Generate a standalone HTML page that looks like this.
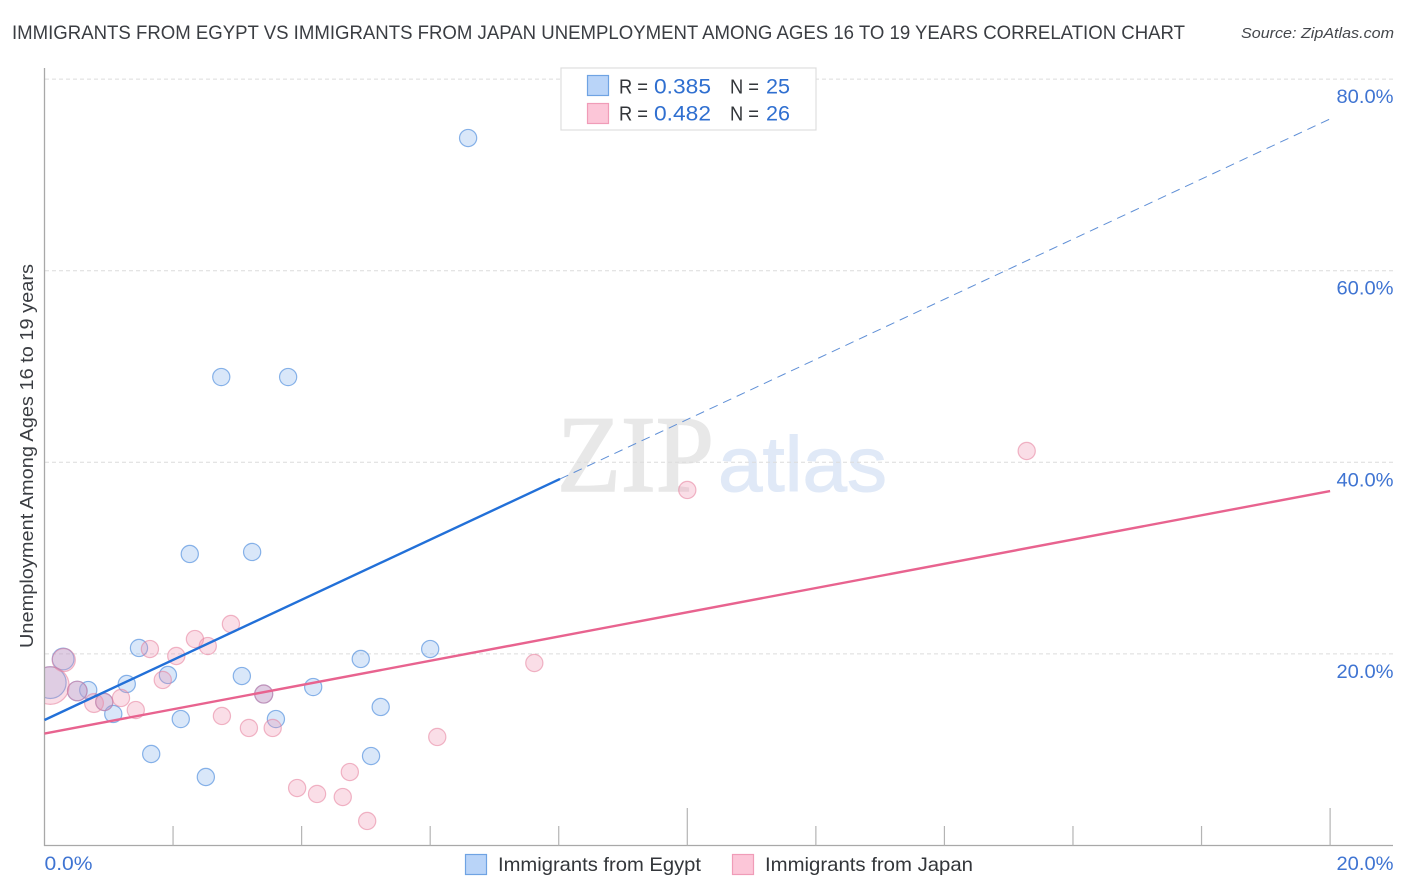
<!DOCTYPE html>
<html lang="en">
<head>
<meta charset="utf-8">
<title>Immigrants from Egypt vs Immigrants from Japan Correlation Chart</title>
<style>
html,body{margin:0;padding:0;background:#fff;width:1406px;height:892px;overflow:hidden}
svg{display:block;font-family:"Liberation Sans",sans-serif}
</style>
</head>
<body>
<svg id="chart" width="1406" height="892" viewBox="0 0 1406 892" xmlns="http://www.w3.org/2000/svg">
  <text x="12" y="39" font-size="19" fill="#3a3d42" textLength="1173" lengthAdjust="spacingAndGlyphs">IMMIGRANTS FROM EGYPT VS IMMIGRANTS FROM JAPAN UNEMPLOYMENT AMONG AGES 16 TO 19 YEARS CORRELATION CHART</text>
  <text x="1241" y="38" font-size="15" font-style="italic" fill="#44474c" textLength="153" lengthAdjust="spacingAndGlyphs">Source: ZipAtlas.com</text>

  <g id="watermark">
    <text x="557" y="491" font-family="'Liberation Serif',serif" font-size="109" fill="#e8e8e8" stroke="#e8e8e8" stroke-width="1.6" textLength="157" lengthAdjust="spacingAndGlyphs">ZIP</text>
    <text x="718" y="491" font-size="78" fill="#e0e9f7" stroke="#e0e9f7" stroke-width="1" textLength="169" lengthAdjust="spacingAndGlyphs">atlas</text>
  </g>

  <g id="grid"></g>
  <g id="points"></g>
  <rect x="0" y="60" width="45" height="786" fill="#fff"/>
  <g id="axes"></g>
  <g id="lines"></g>
  <g id="tick-labels"></g>

  <text transform="translate(33 648) rotate(-90)" x="0" y="0" font-size="18.5" fill="#3a3d42" textLength="384" lengthAdjust="spacingAndGlyphs">Unemployment Among Ages 16 to 19 years</text>

  <g>
    <rect x="561" y="68" width="255" height="62" fill="#fff" stroke="#dedede" stroke-width="1.2"/>
    <rect x="587.5" y="75.5" width="21" height="20" fill="#b9d4f8" stroke="#6fa3e3" stroke-width="1.2"/>
    <rect x="587.5" y="103.5" width="21" height="20" fill="#fcc6d8" stroke="#f09cb8" stroke-width="1.2"/>
    <g font-size="20" fill="#33363a">
      <text x="619" y="93.5" textLength="29" lengthAdjust="spacingAndGlyphs">R =</text>
      <text x="730" y="93.5" textLength="29" lengthAdjust="spacingAndGlyphs">N =</text>
      <text x="619" y="120.5" textLength="29" lengthAdjust="spacingAndGlyphs">R =</text>
      <text x="730" y="120.5" textLength="29" lengthAdjust="spacingAndGlyphs">N =</text>
    </g>
    <g font-size="21" fill="#2f6fd0">
      <text x="654" y="93.5" textLength="57" lengthAdjust="spacingAndGlyphs">0.385</text>
      <text x="766" y="93.5" textLength="24" lengthAdjust="spacingAndGlyphs">25</text>
      <text x="654" y="120.5" textLength="57" lengthAdjust="spacingAndGlyphs">0.482</text>
      <text x="766" y="120.5" textLength="24" lengthAdjust="spacingAndGlyphs">26</text>
    </g>
  </g>

  <g>
    <rect x="465.5" y="854.5" width="21" height="20" fill="#b9d4f8" stroke="#6fa3e3" stroke-width="1.2"/>
    <text x="498" y="871" font-size="19.5" fill="#33363a" textLength="203" lengthAdjust="spacingAndGlyphs">Immigrants from Egypt</text>
    <rect x="732.5" y="854.5" width="21" height="20" fill="#fcc6d8" stroke="#f09cb8" stroke-width="1.2"/>
    <text x="765" y="871" font-size="19.5" fill="#33363a" textLength="208" lengthAdjust="spacingAndGlyphs">Immigrants from Japan</text>
  </g>
</svg>
<script>
const xTicks = [0, 2, 4, 6, 8, 10, 12, 14, 16, 18, 20];
const majorXTicks = [0, 10, 20];
const xTickLabels = ["0.0%", "20.0%"];
const xTickLabelValues = [0, 20];
const yTicks = [20, 40, 60, 80];
const yTickLabels = ["20.0%", "40.0%", "60.0%", "80.0%"];

const egyptX = [6.59, 2.75, 3.79, 2.26, 3.23, 1.47, 1.92, 1.28, 0.68, 0.51, 0.29, 0.09, 0.93, 1.07, 2.12, 1.66, 2.51, 3.07, 3.41, 3.6, 4.18, 4.92, 5.23, 5.08, 6.0];
const egyptY = [73.85, 48.9, 48.9, 30.43, 30.64, 20.62, 17.8, 16.86, 16.23, 16.13, 19.47, 17.0, 14.98, 13.73, 13.2, 9.55, 7.15, 17.69, 15.81, 13.2, 16.54, 19.47, 14.46, 9.34, 20.51];
const egyptWeight = [1, 1, 1, 1, 1, 1, 1, 1, 1, 1.3, 1.6, 3.4, 1, 1, 1, 1, 1, 1, 1.1, 1, 1, 1, 1, 1, 1];

const japanX = [15.28, 10.0, 7.62, 6.11, 2.9, 2.34, 2.54, 1.64, 2.05, 1.84, 0.3, 0.09, 0.51, 0.77, 0.93, 1.19, 1.42, 2.76, 3.18, 3.55, 3.41, 3.93, 4.24, 4.64, 4.75, 5.02];
const japanY = [41.18, 37.11, 19.05, 11.33, 23.12, 21.55, 20.82, 20.51, 19.78, 17.28, 19.36, 16.7, 16.13, 14.87, 14.98, 15.4, 14.14, 13.52, 12.27, 12.27, 15.81, 6.0, 5.38, 5.06, 7.67, 2.56];
const japanWeight = [1, 1, 1, 1, 1, 1, 1, 1, 1, 1, 1.8, 4.8, 1.3, 1.2, 1, 1, 1, 1, 1, 1, 1.1, 1, 1, 1, 1, 1];

const egyptTrendSolidX = [0, 8.02];
const egyptTrendSolidY = [13.1, 38.26];
const egyptTrendDashX = [8.02, 20.03];
const egyptTrendDashY = [38.26, 75.94];
const japanTrendX = [0, 20];
const japanTrendY = [11.69, 37.0];

const NS = "http://www.w3.org/2000/svg";
const xScale = v => 44.5 + v * 64.28;
const yScale = v => 845.5 - v * 9.58;
const rScale = w => 8.6 * Math.sqrt(w) ;

function make(tag, attrs, parent) {
  const el = document.createElementNS(NS, tag);
  for (const k in attrs) el.setAttribute(k, attrs[k]);
  parent.appendChild(el);
  return el;
}

const grid = document.getElementById("grid");
yTicks.forEach(t => {
  const el = make("line", {x1: 45, x2: 1393, y1: yScale(t), y2: yScale(t), stroke: "#dcdcdc", "stroke-width": 1, "stroke-dasharray": "4 3"}, grid);
  
  
});

const axes = document.getElementById("axes");
const yAxisLine = make("line", {x1: 44.5, x2: 44.5, y1: 68, y2: 846, stroke: "#a8a8a8", "stroke-width": 1.3}, axes);


const xAxisLine = make("line", {x1: 44, x2: 1393, y1: 845.5, y2: 845.5, stroke: "#a8a8a8", "stroke-width": 1.3}, axes);


xTicks.forEach(t => {
  if (t === 0) return;
  const top = majorXTicks.includes(t) ? 808 : 826;
  const el = make("line", {x1: xScale(t), x2: xScale(t), y1: top, y2: 845.5, stroke: "#b4b4b4", "stroke-width": 1.2}, axes);
  
  
});

function drawSeries(xs, ys, ws, fill, stroke, name) {
  const pts = document.getElementById("points");
  xs.forEach((x, i) => {
    const c = make("circle", {cx: xScale(x), cy: yScale(ys[i]), r: rScale(ws[i]), fill: fill, stroke: stroke, "stroke-width": 1.2}, pts);
    
    
  });
}
drawSeries(egyptX, egyptY, egyptWeight, "rgba(130,175,235,0.30)", "rgba(70,135,220,0.62)", "egypt-point");
drawSeries(japanX, japanY, japanWeight, "rgba(240,145,175,0.30)", "rgba(230,125,155,0.55)", "japan-point");

const lines = document.getElementById("lines");
const egyptDash = make("line", {x1: xScale(egyptTrendDashX[0]), y1: yScale(egyptTrendDashY[0]), x2: xScale(egyptTrendDashX[1]), y2: yScale(egyptTrendDashY[1]), stroke: "#5f8fd6", "stroke-width": 1, "stroke-dasharray": "9 6"}, lines);


const egyptSolid = make("line", {x1: xScale(egyptTrendSolidX[0]), y1: yScale(egyptTrendSolidY[0]), x2: xScale(egyptTrendSolidX[1]), y2: yScale(egyptTrendSolidY[1]), stroke: "#2270d8", "stroke-width": 2.4}, lines);


const japanLine = make("line", {x1: xScale(japanTrendX[0]), y1: yScale(japanTrendY[0]), x2: xScale(japanTrendX[1]), y2: yScale(japanTrendY[1]), stroke: "#e8638f", "stroke-width": 2.4}, lines);



const labels = document.getElementById("tick-labels");
yTicks.forEach((t, i) => {
  const el = make("text", {x: 1393.5, y: yScale(t) + 24, "text-anchor": "end", "font-size": 19.5, fill: "#3f74d2", textLength: 57, lengthAdjust: "spacingAndGlyphs"}, labels);
  el.textContent = yTickLabels[i];
  
  
});
xTickLabelValues.forEach((t, i) => {
  const isLast = i === xTickLabelValues.length - 1;
  const el = make("text", {x: isLast ? 1393.5 : xScale(t), y: 870, "text-anchor": isLast ? "end" : "start", "font-size": 19.5, fill: "#3f74d2", textLength: isLast ? 57 : 48, lengthAdjust: "spacingAndGlyphs"}, labels);
  el.textContent = xTickLabels[i];
  
  
});
</script>
</body>
</html>
